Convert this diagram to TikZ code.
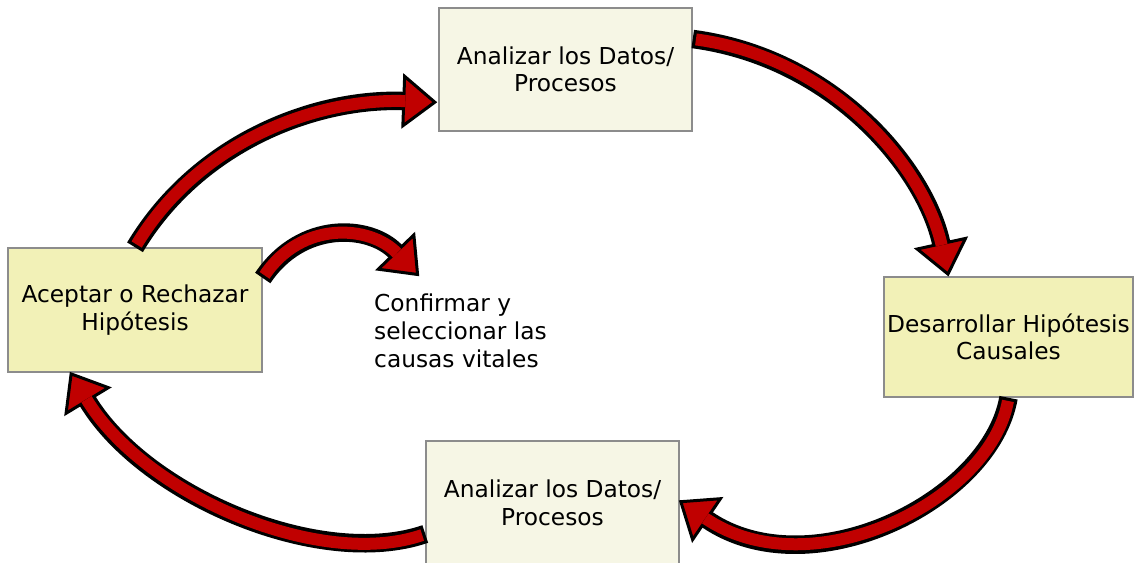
\documentclass[tikz,border=0pt]{standalone}
\usepackage{fontspec}
\setmainfont{DejaVu Sans}
\usetikzlibrary{arrows.meta}

\definecolor{boxpale}{RGB}{246,246,229}
\definecolor{boxyellow}{RGB}{242,241,183}
\definecolor{boxedge}{RGB}{140,140,140}
\definecolor{arrowred}{RGB}{192,0,0}

\tikzset{
  stagebox/.style={draw=boxedge, line width=1.5pt, inner sep=0pt, align=center,
    font=\fontsize{23.3}{27.6}\selectfont},
  palebox/.style={stagebox, fill=boxpale},
  yellowbox/.style={stagebox, fill=boxyellow},
  notetext/.style={inner sep=0pt, align=left, font=\fontsize{23.3}{27.6}\selectfont},
  % black rim of the thick arrow; the curve ends at the back of the head,
  % the head sticks out beyond it
  fatrim/.style={draw=black, line width=18.5pt, shorten >=-35pt,
    -{Triangle[width=55pt,length=35pt,line width=3pt,fill=arrowred]}},
  % red core laid over the rim, reaching a little into the head
  fatcore/.style={draw=arrowred, line width=12pt, shorten <=3.2pt, shorten >=-3pt},
}

% thick red arrow along a curve: rim first, then core
\newcommand{\bigcurve}[1]{\draw[fatrim] #1; \draw[fatcore] #1;}

\begin{document}
\begin{tikzpicture}[x=1pt,y=1pt]
\useasboundingbox (0,0) rectangle (1139,-562);

% stages of the cycle
\node[palebox, minimum width=253pt, minimum height=123pt] (datosA) at (565.5,-69.5)
  {Analizar los Datos/\\Procesos};
\node[yellowbox, minimum width=249pt, minimum height=120pt] (hipotesis) at (1008.5,-337)
  {Desarrollar Hipótesis\\Causales};
\node[palebox, minimum width=253pt, minimum height=124pt] (datosB) at (552.5,-503)
  {Analizar los Datos/\\Procesos};
\node[yellowbox, minimum width=254pt, minimum height=124pt] (aceptar) at (135,-310)
  {Aceptar o Rechazar\\Hipótesis};

% side note
\node[notetext, anchor=north west] (confirmar) at (374,-294)
  {Confirmar y\\seleccionar las\\causas vitales};

% arrows of the cycle
\bigcurve{(aceptar.north) .. controls +(65,108) and +(-83,3) .. ([shift={(-36pt,-31.5pt)}]datosA.west)}
\bigcurve{([yshift=30.5pt]datosA.east) .. controls +(142,-19) and +(-16,73) .. ([shift={(-67.5pt,34pt)}]hipotesis.north)}
\bigcurve{(hipotesis.south) .. controls +(-18,-103) and +(103,-70) .. ([shift={(28pt,-17pt)}]datosB.east)}
\bigcurve{([yshift=-31pt]datosB.west) .. controls +(-105,-36) and +(57,-94) .. ([shift={(-47pt,-29pt)}]aceptar.south)}
\bigcurve{([yshift=32pt]aceptar.east) .. controls +(39,58) and +(-25,26) .. ([shift={(21pt,43pt)}]confirmar.north west)}
\end{tikzpicture}
\end{document}
